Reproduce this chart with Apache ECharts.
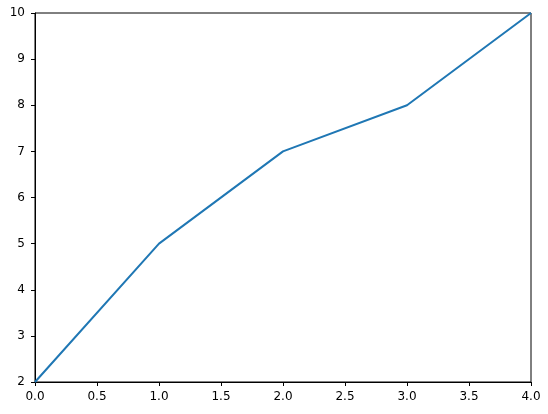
<!DOCTYPE html>
<html>
<head>
<meta charset="utf-8">
<script src="https://cdn.jsdelivr.net/npm/echarts@6/dist/echarts.min.js"></script>
<style>html,body{margin:0;padding:0;background:#fff;}#c{width:548px;height:414px;}</style>
</head>
<body>
<div id="c"></div>
<script>
var xValues = [0, 1, 2, 3, 4];
var yValues = [2, 5, 7, 8, 10];

var chart = echarts.init(document.getElementById('c'), null, {renderer: 'canvas'});
var axisLine = {show: true, onZero: false, lineStyle: {color: '#000', width: 1}};
var axisTick = {show: true, inside: false, length: 4, lineStyle: {color: '#000', width: 1}};
chart.setOption({
  animation: false,
  backgroundColor: '#fff',
  grid: {left: 35, top: 13, right: 17, bottom: 32, show: true, borderColor: '#000', borderWidth: 1, backgroundColor: 'transparent'},
  xAxis: {type: 'value', min: 0, max: 4, interval: 0.5,
    axisLine: axisLine, axisTick: axisTick, splitLine: {show: false},
    axisLabel: {color: '#000', fontSize: 12, fontFamily: 'DejaVu Sans', margin: 9,
      formatter: function (v) { return v.toFixed(1); }}
  },
  yAxis: {type: 'value', min: 2, max: 10, interval: 1,
    axisLine: axisLine, axisTick: axisTick, splitLine: {show: false},
    axisLabel: {color: '#000', fontSize: 12, fontFamily: 'DejaVu Sans', margin: 10}
  },
  series: [{
    type: 'line',
    data: xValues.map(function (x, i) { return [x, yValues[i]]; }),
    showSymbol: false,
    lineStyle: {color: '#1f77b4', width: 2},
    clip: false
  }]
});
</script>
</body>
</html>
